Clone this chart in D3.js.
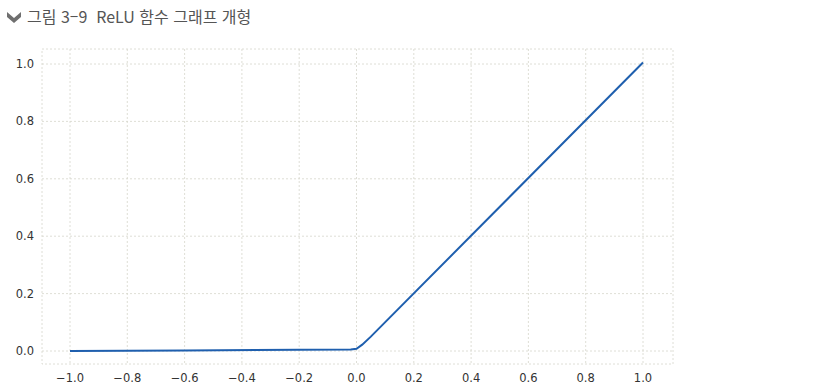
<!DOCTYPE html>
<html lang="ko">
<head>
  <meta charset="UTF-8">
  <title>ReLU</title>
  <script src="https://d3js.org/d3.v7.min.js"></script>
  <style>
    body { margin: 0; background: #fff; }
  </style>
</head>
<body>
  <div id="container"></div>
  <script>
    // ReLU curve
    const xs = [-1.0, -0.6, -0.2, -0.02, 0.0, 0.02, 0.05, 1.0]
    const ys = [0.0, 0.002, 0.004, 0.005, 0.008, 0.022, 0.05, 1.005]
    const xTicks = [-1.0, -0.8, -0.6, -0.4, -0.2, 0.0, 0.2, 0.4, 0.6, 0.8, 1.0]
    const yTicks = [0.0, 0.2, 0.4, 0.6, 0.8, 1.0]
    const title = '그림 3\u20139  ReLU 함수 그래프 개형'

    const W = 840, H = 391
    const box = {left: 42, right: 673, top: 49, bottom: 364}

    const svg = d3.select('#container').append('svg')
      .attr('width', W)
      .attr('height', H)
      .style('font-family', '"DejaVu Sans", sans-serif')

    // title with chevron
    svg.append('path')
      .attr('d', 'M7,12 L14,18 L21,12 L21,17 L14,23 L7,17 Z')
      .attr('fill', '#6f6f6f')
    svg.append('text')
      .attr('x', 27)
      .attr('y', 23)
      .attr('font-family', '"Noto Sans CJK KR", sans-serif')
      .attr('font-size', 16)
      .attr('fill', '#555')
      .style('white-space', 'pre')
      .text(title)

    const x = d3.scaleLinear().domain([-1, 1]).range([70, 643])
    const y = d3.scaleLinear().domain([0, 1]).range([351, 64])

    const grid = '#d6d6cc'

    // grid
    svg.append('g').selectAll('line')
      .data(xTicks).enter().append('line')
        .attr('x1', d => x(d)).attr('x2', d => x(d))
        .attr('y1', box.top).attr('y2', box.bottom)
        .attr('stroke', grid).attr('stroke-dasharray', '2,2').attr('stroke-width', 0.8)
    svg.append('g').selectAll('line')
      .data(yTicks).enter().append('line')
        .attr('x1', box.left).attr('x2', box.right)
        .attr('y1', d => y(d)).attr('y2', d => y(d))
        .attr('stroke', grid).attr('stroke-dasharray', '2,2').attr('stroke-width', 0.8)

    // frame
    svg.append('rect')
      .attr('x', box.left).attr('y', box.top)
      .attr('width', box.right - box.left).attr('height', box.bottom - box.top)
      .attr('fill', 'none').attr('stroke', grid)
      .attr('stroke-dasharray', '2,2').attr('stroke-width', 0.8)

    const fmt = d => (d < 0 ? '\u2212' : '') + Math.abs(d).toFixed(1)

    svg.append('g').selectAll('text')
      .data(xTicks).enter().append('text')
        .attr('x', d => x(d))
        .attr('y', 382)
        .attr('text-anchor', 'middle')
        .attr('font-size', 11.5)
        .attr('fill', '#333')
        .text(fmt)
    svg.append('g').selectAll('text')
      .data(yTicks).enter().append('text')
        .attr('x', 34)
        .attr('y', d => y(d) + 4)
        .attr('text-anchor', 'end')
        .attr('font-size', 11.5)
        .attr('fill', '#333')
        .text(fmt)

    const pts = xs.map((v, i) => [v, ys[i]])
    svg.append('path')
      .datum(pts)
      .attr('d', d3.line().x(d => x(d[0])).y(d => y(d[1])))
      .attr('fill', 'none')
      .attr('stroke', '#1f5fae')
      .attr('stroke-width', 2)
  </script>
</body>
</html>
